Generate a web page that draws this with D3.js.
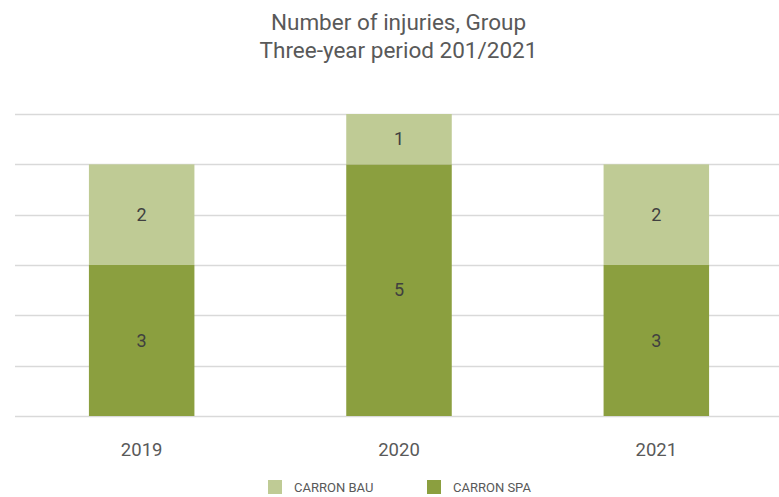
<!DOCTYPE html>
<html>
<head>
<meta charset="utf-8">
<script src="https://cdn.jsdelivr.net/npm/d3@7"></script>
<style>
  body { margin: 0; background: #fff; }
  text { font-family: Roboto, "Noto Sans", sans-serif; }
</style>
</head>
<body>
<div id="chart"></div>
<script>
// chart data
const years = ["2019", "2020", "2021"];
const carronSpa = [3, 5, 3];
const carronBau = [2, 1, 2];
const seriesNames = ["CARRON BAU", "CARRON SPA"];
const titleLines = ["Number of injuries, Group", "Three-year period 201/2021"];

const width = 779, height = 497;
const colors = {"CARRON SPA": "#8b9f3f", "CARRON BAU": "#bfcb95"};

const svg = d3.select("#chart").append("svg")
    .attr("width", width)
    .attr("height", height);

// scales
const x = d3.scaleBand()
    .domain(years)
    .range([13, 785])
    .paddingInner(0.59)
    .paddingOuter(0.295);

const y = d3.scaleLinear()
    .domain([0, 6])
    .range([416, 114]);

// gridlines
svg.append("g")
    .selectAll("line")
    .data(d3.range(0, 7))
    .enter()
    .append("line")
    .attr("x1", 15)
    .attr("x2", width)
    .attr("y1", d => Math.round(y(d)) + 0.5)
    .attr("y2", d => Math.round(y(d)) + 0.5)
    .style("stroke", "#d9d9d9")
    .style("stroke-width", 1.3);

// stacked data
const rows = years.map((yr, i) => ({year: yr, "CARRON SPA": carronSpa[i], "CARRON BAU": carronBau[i]}));
const stack = d3.stack().keys(["CARRON SPA", "CARRON BAU"])(rows);

const layers = svg.append("g")
    .selectAll("g")
    .data(stack)
    .enter()
    .append("g")
    .attr("fill", d => colors[d.key]);

layers.selectAll("rect")
    .data(d => d)
    .enter()
    .append("rect")
    .attr("x", d => x(d.data.year))
    .attr("width", x.bandwidth())
    .attr("y", d => y(d[1]))
    .attr("height", d => y(d[0]) - y(d[1]));

layers.selectAll("text")
    .data(d => d)
    .enter()
    .append("text")
    .attr("x", d => x(d.data.year) + x.bandwidth() / 2)
    .attr("y", d => (y(d[0]) + y(d[1])) / 2)
    .attr("dy", "0.35em")
    .attr("text-anchor", "middle")
    .style("font-size", "18px")
    .style("fill", "#404040")
    .text(d => d[1] - d[0]);

// x axis labels
svg.append("g")
    .attr("transform", "translate(0,417)")
    .call(d3.axisBottom(x).tickSize(0).tickPadding(26))
    .call(g => g.select(".domain").remove())
    .selectAll("text")
    .style("font-size", "18.5px")
    .style("font-family", "Roboto, 'Noto Sans', sans-serif")
    .style("fill", "#595959");

// title
svg.append("text")
    .attr("text-anchor", "middle")
    .style("font-size", "22.5px")
    .style("fill", "#595959")
    .selectAll("tspan")
    .data(titleLines)
    .enter()
    .append("tspan")
    .attr("x", width / 2 + 9)
    .attr("y", (d, i) => 30 + i * 28)
    .text(d => d);

// legend
const legendX = [268, 427];
const legend = svg.append("g")
    .selectAll("g")
    .data(seriesNames)
    .enter()
    .append("g")
    .attr("transform", (d, i) => "translate(" + legendX[i] + ",480)");

legend.append("rect")
    .attr("width", 14)
    .attr("height", 14)
    .attr("fill", d => colors[d]);

legend.append("text")
    .attr("x", 26)
    .attr("y", 7)
    .attr("dy", "0.35em")
    .style("font-size", "13px")
    .style("fill", "#595959")
    .text(d => d);
</script>
</body>
</html>
